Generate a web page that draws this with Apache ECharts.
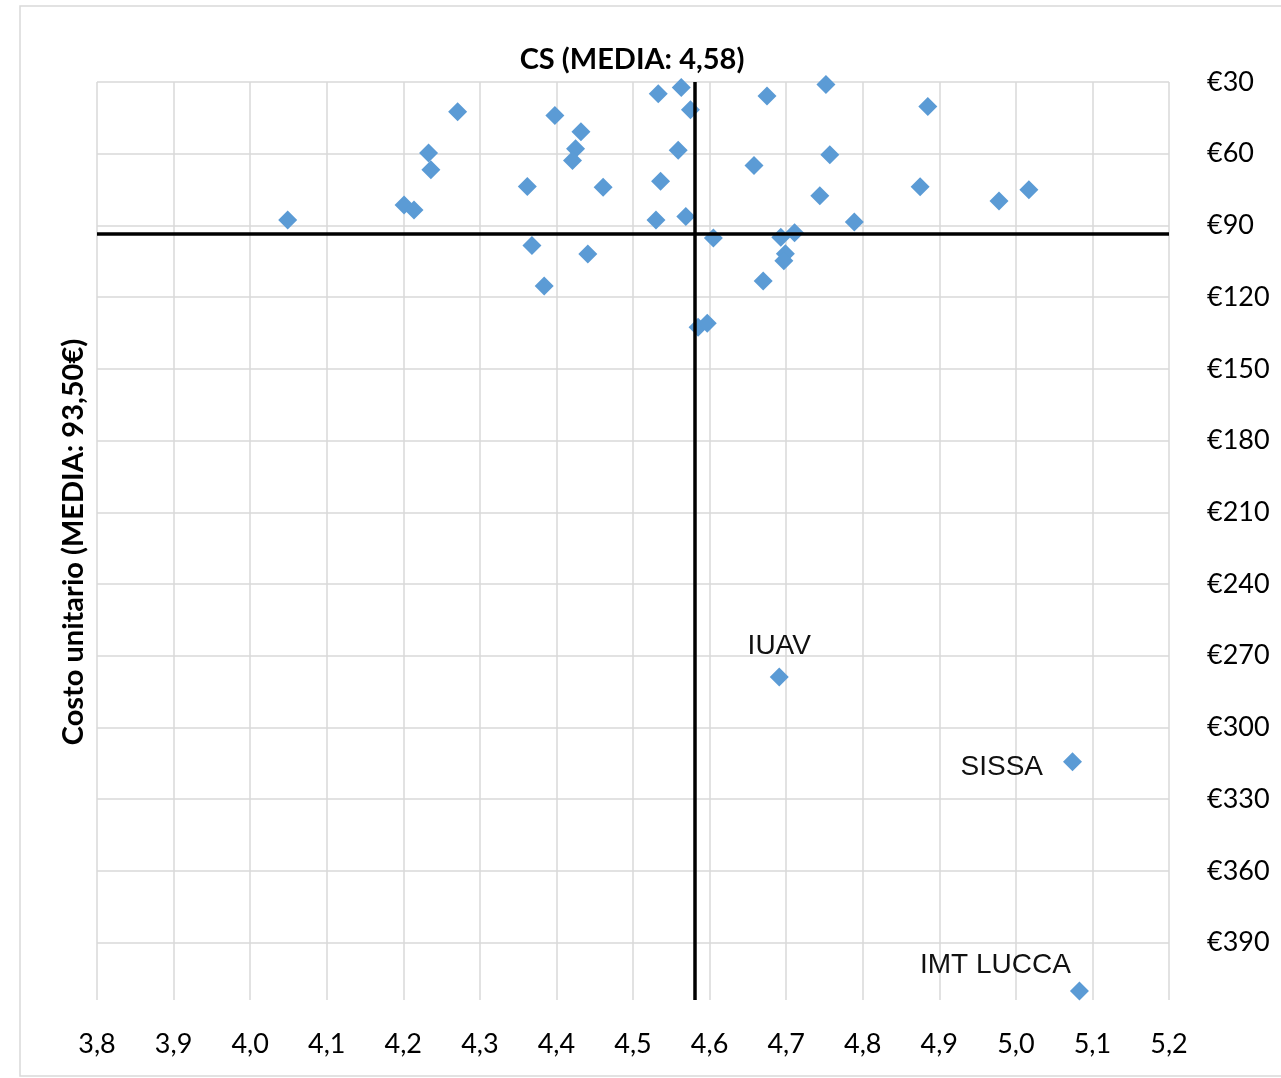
<!DOCTYPE html>
<html>
<head>
<meta charset="utf-8">
<script src="https://cdn.jsdelivr.net/npm/echarts@6/dist/echarts.min.js"></script>
<style>
html,body{margin:0;padding:0;background:#fff;}
#chart{width:1281px;height:1078px;}
</style>
</head>
<body>
<div id="chart"></div>
<script>
// CS score (x) and unit cost in € (y) per university
const csValues = [4.049, 4.201, 4.214, 4.233, 4.236, 4.271, 4.362, 4.368, 4.384, 4.398,
  4.432, 4.425, 4.421, 4.441, 4.461, 4.533, 4.563, 4.575, 4.559, 4.536,
  4.530, 4.569, 4.585, 4.597, 4.605, 4.658, 4.670, 4.675, 4.693, 4.699,
  4.697, 4.711, 4.744, 4.752, 4.757, 4.789, 4.875, 4.885, 4.978, 5.017,
  4.691, 5.074, 5.083];
const costValues = [87.7, 81.4, 83.5, 59.7, 66.7, 42.4, 73.7, 98.4, 115.3, 44.0,
  50.8, 57.9, 62.8, 101.9, 74.0, 34.9, 32.3, 41.6, 58.6, 71.5,
  87.7, 86.3, 132.6, 130.9, 95.3, 64.9, 113.2, 35.9, 94.9, 101.8,
  104.8, 93.1, 77.6, 31.0, 60.4, 88.6, 73.8, 40.2, 79.8, 75.1,
  278.9, 314.3, 410.2];
const pointNames = ['', '', '', '', '', '', '', '', '', '',
  '', '', '', '', '', '', '', '', '', '',
  '', '', '', '', '', '', '', '', '', '',
  '', '', '', '', '', '', '', '', '', '',
  'IUAV', 'SISSA', 'IMT LUCCA'];
const meanCS = 4.58;
const meanCost = 93.5;
const titleText = 'CS (MEDIA: 4,58)';
const yAxisTitle = 'Costo unitario (MEDIA: 93,50€)';

const labelPos = {
  'IUAV': { position: 'top', distance: 7 },
  'SISSA': { position: 'left', distance: 20, offset: [0, 6] },
  'IMT LUCCA': { position: 'top', distance: 2, offset: [-84, 0] }
};

const data = csValues.map((x, i) => {
  const item = { value: [x, costValues[i]], name: pointNames[i] };
  if (pointNames[i]) {
    const lp = labelPos[pointNames[i]];
    item.label = Object.assign({
      show: true,
      formatter: '{b}',
      color: '#111111',
      fontFamily: 'Liberation Sans',
      fontSize: 28
    }, lp);
  }
  return item;
});

const chart = echarts.init(document.getElementById('chart'), null, { renderer: 'canvas' });
chart.setOption({
  animation: false,
  backgroundColor: '#ffffff',
  grid: { left: 97, right: 112, top: 82, bottom: 78 },
  graphic: [
    {
      type: 'rect', z: -10,
      shape: { x: 20, y: 6, width: 1300, height: 1070 },
      style: { fill: 'none', stroke: '#d9d9d9', lineWidth: 1.5 }
    },
    {
      type: 'text', x: 632, y: 60,
      style: { text: titleText, font: 'bold 29px Lato', fill: '#000', textAlign: 'center', textVerticalAlign: 'middle' }
    },
    {
      type: 'text', x: 74, y: 542, rotation: Math.PI / 2,
      style: { text: yAxisTitle, font: 'bold 29px Lato', fill: '#000', textAlign: 'center', textVerticalAlign: 'middle' }
    }
  ],
  xAxis: {
    type: 'value',
    min: 3.8, max: 5.2, interval: 0.1,
    axisLine: { show: false },
    axisTick: { show: false },
    axisLabel: {
      margin: 31, color: '#000', fontFamily: 'Lato', fontSize: 27,
      formatter: v => v.toFixed(1).replace('.', ',')
    },
    splitLine: { show: true, lineStyle: { color: '#d9d9d9', width: 1.5 } }
  },
  yAxis: {
    type: 'value',
    position: 'right',
    inverse: true,
    min: 30, max: 414, interval: 30,
    axisLine: { show: false },
    axisTick: { show: false },
    axisLabel: {
      margin: 38, color: '#000', fontFamily: 'Lato', fontSize: 27,
      showMaxLabel: false,
      formatter: v => (v % 30 === 0 ? '€' + v : '')
    },
    splitLine: { show: true, showMaxLine: false, lineStyle: { color: '#d9d9d9', width: 1.5 } }
  },
  series: [
    {
      type: 'scatter',
      z: 1,
      data: [],
      silent: true,
      markLine: {
        silent: true,
        symbol: ['none', 'none'],
        label: { show: false },
        lineStyle: { color: '#000', width: 3.5, type: 'solid', opacity: 1 },
        emphasis: { disabled: true },
        data: [{ xAxis: meanCS }, { yAxis: meanCost }]
      }
    },
    {
      type: 'scatter',
      z: 3,
      symbol: 'diamond',
      symbolSize: 19,
      itemStyle: { color: '#5B9BD5', opacity: 1 },
      data: data
    }
  ]
});
</script>
</body>
</html>
